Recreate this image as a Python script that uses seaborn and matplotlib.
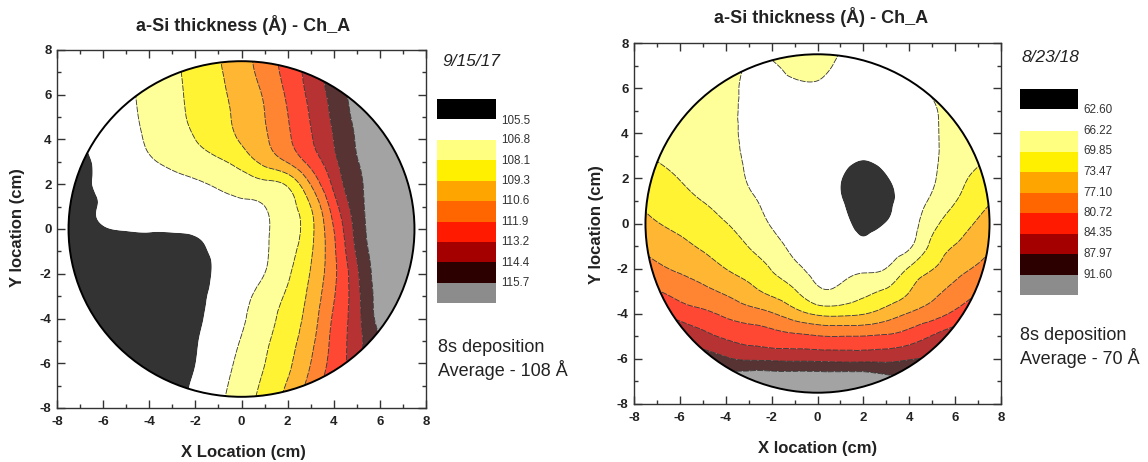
import matplotlib
matplotlib.use("Agg")
import numpy as np
import matplotlib.pyplot as plt
import matplotlib.tri as mtri
from matplotlib.patches import Circle, Rectangle
from matplotlib.ticker import MultipleLocator
from matplotlib.colors import to_rgb
import seaborn as sns

sns.set_theme(style="ticks")
plt.rcParams["font.family"] = ["Liberation Sans", "DejaVu Sans"]
plt.rcParams["axes.unicode_minus"] = False

# measurement grid on the wafer (cm)
x_cm = [-8, -7, -6, -5, -4, -3, -2, -1, 0, 1, 2, 3, 4, 5, 6, 7, 8]
y_cm = [-8, -7, -6, -5, -4, -3, -2, -1, 0, 1, 2, 3, 4, 5, 6, 7, 8]
wafer_radius = 7.5

# ---- 9/15/17 run: a-Si thickness (Å), rows run from y=-8 up to y=8 ----
date_a = "9/15/17"
average_a = "Average - 108 Å"
levels_a = [105.5, 106.8, 108.1, 109.3, 110.6, 111.9, 113.2, 114.4, 115.7]
level_labels_a = ["105.5", "106.8", "108.1", "109.3", "110.6", "111.9", "113.2", "114.4", "115.7"]
thickness_a = [
    [103.4, 103.6, 103.8, 104.1, 104.5, 105.0, 105.75, 106.6, 107.6, 108.6, 109.8, 111.4, 113.0, 114.4, 115.6, 116.1, 116.4],
    [103.5, 103.7, 103.9, 104.2, 104.6, 105.1, 105.66, 106.45, 107.35, 108.35, 109.43, 111.09, 112.8, 114.2, 115.5, 116.1, 116.4],
    [103.6, 103.8, 104.0, 104.3, 104.6, 104.95, 105.49, 106.27, 107.11, 108.08, 109.06, 110.6, 112.39, 113.95, 115.7, 116.2, 116.5],
    [103.7, 103.9, 104.1, 104.3, 104.6, 104.9, 105.41, 106.09, 106.87, 107.85, 108.85, 110.23, 112.27, 113.91, 115.7, 116.2, 116.5],
    [103.8, 104.0, 104.2, 104.4, 104.6, 104.9, 105.32, 105.9, 106.64, 107.56, 108.6, 109.92, 112.09, 113.96, 116.1, 116.4, 116.7],
    [103.9, 104.1, 104.3, 104.5, 104.7, 104.9, 105.28, 105.76, 106.45, 107.28, 108.29, 109.66, 111.8, 114.01, 116.2, 116.5, 116.8],
    [104.0, 104.2, 104.4, 104.6, 104.8, 105.0, 105.25, 105.67, 106.23, 106.8, 107.93, 109.38, 111.59, 114.16, 116.3, 116.6, 116.9],
    [104.2, 104.4, 104.6, 104.8, 104.95, 105.1, 105.35, 105.69, 106.18, 106.66, 107.63, 109.13, 111.65, 114.55, 116.4, 116.7, 117.0],
    [104.5, 105.0, 105.42, 105.56, 105.6, 105.6, 105.65, 105.99, 106.33, 106.67, 107.42, 108.95, 111.9, 114.82, 116.6, 116.9, 117.1],
    [104.6, 105.23, 105.56, 105.74, 105.9, 106.06, 106.25, 106.43, 106.61, 106.79, 107.62, 109.3, 112.58, 115.08, 116.6, 116.8, 117.0],
    [104.7, 105.3, 105.62, 105.86, 106.12, 106.38, 106.64, 106.95, 107.34, 107.74, 108.28, 110.65, 113.48, 115.35, 116.4, 116.8, 117.0],
    [104.83, 105.27, 105.73, 106.19, 106.66, 107.08, 107.48, 107.89, 108.6, 109.65, 110.68, 112.36, 114.08, 115.61, 116.45, 116.9, 117.2],
    [105.0, 105.45, 105.94, 106.43, 106.94, 107.52, 108.1, 108.74, 109.42, 110.4, 111.66, 113.08, 114.41, 115.8, 116.4, 116.8, 117.1],
    [105.1, 105.5, 106.0, 106.51, 107.07, 107.71, 108.34, 108.93, 109.65, 110.58, 111.86, 113.28, 114.64, 115.98, 116.5, 116.9, 117.2],
    [105.2, 105.6, 106.09, 106.58, 107.14, 107.78, 108.41, 109.02, 109.79, 110.74, 112.1, 113.49, 114.86, 116.15, 116.6, 117.0, 117.3],
    [105.0, 105.5, 106.04, 106.58, 107.19, 107.84, 108.49, 109.15, 110.02, 111.08, 112.37, 113.7, 115.09, 116.2, 116.6, 117.0, 117.3],
    [104.9, 105.4, 106.0, 106.6, 107.25, 107.9, 108.55, 109.25, 110.15, 111.2, 112.5, 113.8, 115.1, 116.3, 116.9, 117.2, 117.4],
]

# ---- 8/23/18 run ----
date_b = "8/23/18"
average_b = "Average - 70 Å"
levels_b = [62.60, 66.22, 69.85, 73.47, 77.10, 80.72, 84.35, 87.97, 91.60]
level_labels_b = ["62.60", "66.22", "69.85", "73.47", "77.10", "80.72", "84.35", "87.97", "91.60"]
thickness_b = [
    [100, 99, 98, 97, 97, 98, 98, 98, 98, 98, 98, 97, 96, 96, 97, 98, 99],
    [97, 96, 95, 94, 94, 95, 95, 95, 95, 95, 95, 93.5, 93, 93, 94, 95, 96],
    [93, 92, 91, 90, 88.5, 87.54, 87.35, 87.19, 87.09, 86.9, 86.9, 87.0, 87.74, 88.5, 90, 91, 92],
    [89.5, 88.5, 87.5, 85.49, 83.82, 82.85, 82.08, 81.45, 80.9, 80.72, 80.8, 81.2, 82.42, 84.56, 86.5, 87, 88],
    [86, 85, 82.82, 81.53, 80.03, 78.68, 77.42, 75.01, 72.9, 72.6, 73.3, 75.18, 77.36, 79.13, 81.56, 83.5, 85],
    [82.5, 80.9, 79.36, 78.03, 76.49, 74.64, 72.51, 70.17, 66.9, 67.1, 68.93, 70.38, 73.37, 76.09, 78.17, 80.44, 82],
    [79.5, 77.78, 76.55, 75.25, 73.45, 71.89, 69.68, 67.13, 65.2, 65.0, 65.5, 66.3, 70.25, 73.3, 75.75, 77.63, 79.5],
    [77.2, 75.57, 74.37, 72.99, 71.6, 69.76, 67.73, 65.2, 64.3, 64.0, 63.2, 64.3, 65.7, 70.8, 73.6, 75.66, 77.3],
    [75.2, 73.61, 72.62, 71.39, 69.94, 68.44, 65.9, 64.3, 63.8, 63.4, 61.9, 62.7, 64.6, 68.71, 71.64, 73.88, 75.5],
    [73.5, 72.19, 71.19, 69.8, 68.8, 67.12, 65.0, 64.0, 63.5, 62.8, 61.3, 62.0, 64.0, 66.87, 69.7, 72.27, 73.8],
    [72.0, 70.81, 69.75, 68.7, 68.0, 65.9, 64.6, 64.0, 63.6, 62.7, 61.6, 62.4, 64.0, 65.8, 68.5, 70.71, 72.2],
    [70.8, 69.6, 68.9, 68.0, 67.5, 65.5, 64.5, 64.2, 63.9, 63.3, 62.8, 63.4, 64.3, 65.6, 67.8, 69.2, 70.8],
    [70.0, 69.0, 68.4, 67.6, 67.2, 65.3, 64.7, 64.6, 64.3, 63.9, 63.6, 64.0, 64.7, 65.7, 67.6, 68.8, 70.0],
    [69.5, 68.7, 68.1, 67.4, 67.1, 65.4, 65.1, 65.1, 64.9, 64.5, 64.3, 64.6, 65.2, 65.9, 67.5, 68.7, 69.7],
    [69.3, 68.6, 68.0, 67.4, 67.1, 65.6, 65.6, 65.8, 65.8, 65.2, 65.0, 65.2, 65.9, 66.5, 67.8, 68.8, 69.8],
    [69.3, 68.7, 68.1, 67.6, 67.3, 66.0, 66.0, 66.8, 67.0, 65.8, 65.6, 65.8, 66.5, 67.0, 68.2, 69.0, 70.0],
    [69.5, 68.9, 68.3, 67.8, 67.6, 66.5, 67.0, 67.3, 67.5, 66.3, 66.1, 66.3, 67.0, 67.5, 68.5, 69.2, 70.2],
]

# band colours: below-range swatch, then one per band between the levels
under_color = "#000000"
band_colors = ["#FFFF80", "#FFF000", "#FFA500", "#FF6600", "#FF1A00",
               "#A50000", "#2D0000", "#8C8C8C"]
fill_alpha = 0.8


def soften(color, alpha=fill_alpha):
    r, g, b = to_rgb(color)
    return (1 - alpha + alpha * r, 1 - alpha + alpha * g, 1 - alpha + alpha * b)


W, H = 1148, 462
fig = plt.figure(figsize=(W / 100, H / 100), dpi=100)
fig.patch.set_facecolor("white")


def fx(px):
    return px / W


def fy(py):
    return 1 - py / H


def grid_triangulation():
    gx, gy = np.meshgrid(x_cm, y_cm)
    nx = len(x_cm)
    cells = []
    for j in range(len(y_cm) - 1):
        for i in range(nx - 1):
            a = j * nx + i
            b, c, d = a + 1, a + nx, a + nx + 1
            # alternate the split diagonal so the mesh has no preferred direction
            if (i + j) % 2 == 0:
                cells += [[a, b, d], [a, d, c]]
            else:
                cells += [[a, b, c], [b, d, c]]
    return mtri.Triangulation(gx.ravel(), gy.ravel(), triangles=cells)


def wafer_map(ax, z, levels):
    zz = np.asarray(z, dtype=float).ravel()
    tri = grid_triangulation()
    smooth = mtri.CubicTriInterpolator(tri, zz, kind="min_E")
    tri_f, z_f = mtri.UniformTriRefiner(tri).refine_field(zz, triinterpolator=smooth, subdiv=4)

    bounds = [-1e4] + list(levels) + [1e4]
    fills = [soften(under_color), (1, 1, 1)] + [soften(c) for c in band_colors]
    cf = ax.tricontourf(tri_f, z_f, levels=bounds, colors=fills, antialiased=True)
    cl = ax.tricontour(tri_f, z_f, levels=list(levels[1:]), colors="#333333",
                       linewidths=0.6, linestyles=[(0, (7, 1.5))])
    clip = Circle((0, 0), wafer_radius, transform=ax.transData)
    cf.set_clip_path(clip)
    cl.set_clip_path(clip)
    ax.add_patch(Circle((0, 0), wafer_radius, fill=False, lw=1.4, color="black", zorder=5))
    ax.set_xlim(-8, 8)
    ax.set_ylim(-8, 8)
    ax.xaxis.set_major_locator(MultipleLocator(2))
    ax.yaxis.set_major_locator(MultipleLocator(2))
    ax.xaxis.set_minor_locator(MultipleLocator(1))
    ax.yaxis.set_minor_locator(MultipleLocator(1))
    ax.tick_params(which="both", direction="in", top=True, right=True,
                   color="#333333", width=1.0)
    ax.tick_params(which="major", length=5.5)
    ax.tick_params(which="minor", length=3)
    ax.tick_params(axis="x", pad=6, labelsize=9.5, labelcolor="#222222")
    ax.tick_params(axis="y", pad=4, labelsize=9.5, labelcolor="#222222")
    for lab in ax.get_xticklabels() + ax.get_yticklabels():
        lab.set_fontweight("bold")
    for sp in ax.spines.values():
        sp.set_linewidth(1.0)
        sp.set_color("#333333")
    ax.set_xlabel("")
    ax.set_ylabel("")
    ax.set_facecolor("white")


ax1 = fig.add_axes([fx(57), fy(408), (426 - 57) / W, (408 - 50) / H])
ax2 = fig.add_axes([fx(634), fy(404), (1001 - 634) / W, (404 - 43) / H])
wafer_map(ax1, thickness_a, levels_a)
wafer_map(ax2, thickness_b, levels_b)

title = "a-Si thickness (Å) - Ch_A"
bold = dict(fontweight="bold", color="#222222")
fig.text(fx(243), fy(25), title, ha="center", va="center", fontsize=13, **bold)
fig.text(fx(821), fy(17), title, ha="center", va="center", fontsize=13, **bold)
fig.text(fx(243), fy(452), "X Location (cm)", ha="center", va="center", fontsize=12, **bold)
fig.text(fx(818), fy(448), "X location (cm)", ha="center", va="center", fontsize=12, **bold)
fig.text(fx(18), fy(228), "Y location (cm)", ha="center", va="center", rotation=90, fontsize=12, **bold)
fig.text(fx(596), fy(225), "Y location (cm)", ha="center", va="center", rotation=90, fontsize=12, **bold)


def level_legend(x0, x1, black_top, black_bot, bands_top, bands_bot, label_x,
                 label_ys, labels, date, date_xy, note_x, note_ys, average):
    fig.add_artist(Rectangle((fx(x0), fy(black_bot)), (x1 - x0) / W, (black_bot - black_top) / H,
                             transform=fig.transFigure, facecolor=under_color, edgecolor="none"))
    step = (bands_bot - bands_top) / len(band_colors)
    for i, c in enumerate(band_colors):
        top = bands_top + i * step
        fig.add_artist(Rectangle((fx(x0), fy(top + step)), (x1 - x0) / W, step / H,
                                 transform=fig.transFigure, facecolor=c, edgecolor="none"))
    for yy, s in zip(label_ys, labels):
        fig.text(fx(label_x), fy(yy), s, ha="left", va="center", fontsize=8.4, color="#333333")
    fig.text(fx(date_xy[0]), fy(date_xy[1]), date, ha="left", va="center", fontsize=12.5,
             style="italic", color="#222222")
    fig.text(fx(note_x), fy(note_ys[0]), "8s deposition", ha="left", va="center", fontsize=13,
             color="#222222")
    fig.text(fx(note_x), fy(note_ys[1]), average, ha="left", va="center", fontsize=13,
             color="#222222")


level_legend(437, 496, 99, 119, 140, 303, 501,
             [121, 140, 161, 181.5, 201.5, 222, 242.5, 263, 283.3],
             level_labels_a, date_a, (442, 62), 438, (348, 370), average_a)
level_legend(1020, 1078, 89, 109, 131, 295, 1083,
             [110, 131, 151.5, 172, 192.5, 213, 233.5, 254, 274.5],
             level_labels_b, date_b, (1022, 58), 1020, (336, 358), average_b)

fig.savefig("out.png", dpi=100)
